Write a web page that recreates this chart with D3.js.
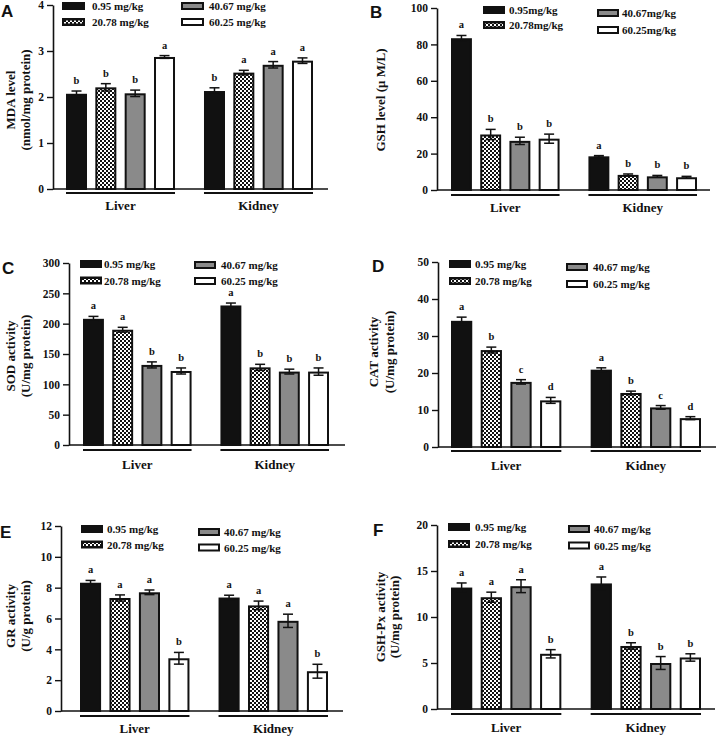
<!DOCTYPE html>
<html>
<head>
<meta charset="utf-8">
<script src="https://cdn.jsdelivr.net/npm/d3@7"></script>
<style>
  html, body { margin: 0; padding: 0; background: #fff; }
  svg { display: block; }
  text { font-family: "Liberation Serif", "Times New Roman", serif; font-weight: bold; fill: #111; }
  .plabel { font-family: "Liberation Sans", Arial, sans-serif; font-weight: bold; }
</style>
</head>
<body>
<svg id="chart" width="716" height="738"></svg>
<script>
// ---------------- DATA ----------------
const groups = ["Liver", "Kidney"];
const doseLabels = ["0.95 mg/kg", "20.78 mg/kg", "40.67 mg/kg", "60.25 mg/kg"];
const doseLabelsB = ["0.95mg/kg", "20.78mg/kg", "40.67mg/kg", "60.25mg/kg"];

const mdaMeans = [[2.07, 2.21, 2.08, 2.87], [2.13, 2.53, 2.70, 2.79]];
const mdaErrors = [[0.06, 0.08, 0.07, 0.03], [0.07, 0.05, 0.07, 0.06]];
const mdaLetters = [["b", "b", "b", "a"], ["b", "a", "a", "a"]];
const mdaTicks = [0, 1, 2, 3, 4];

const gshMeans = [[83.4, 30.5, 27.0, 28.2], [18.5, 8.3, 7.5, 7.0]];
const gshErrors = [[1.5, 2.8, 2.0, 2.5], [0.4, 0.5, 0.5, 0.5]];
const gshLetters = [["a", "b", "b", "b"], ["a", "b", "b", "b"]];
const gshTicks = [0, 20, 40, 60, 80, 100];

const sodMeans = [[208, 190, 132, 122], [230, 128, 121, 121]];
const sodErrors = [[4, 4, 5, 5], [4, 5, 4, 6]];
const sodLetters = [["a", "a", "b", "b"], ["a", "b", "b", "b"]];
const sodTicks = [0, 50, 100, 150, 200, 250, 300];

const catMeans = [[34.1, 26.2, 17.6, 12.6], [20.9, 14.6, 10.7, 7.8]];
const catErrors = [[1.0, 0.8, 0.6, 0.8], [0.5, 0.5, 0.5, 0.4]];
const catLetters = [["a", "b", "c", "d"], ["a", "b", "c", "d"]];
const catTicks = [0, 10, 20, 30, 40, 50];

const grMeans = [[8.32, 7.33, 7.70, 3.42], [7.36, 6.85, 5.85, 2.58]];
const grErrors = [[0.15, 0.2, 0.15, 0.38], [0.15, 0.28, 0.43, 0.45]];
const grLetters = [["a", "a", "a", "b"], ["a", "a", "a", "b"]];
const grTicks = [0, 2, 4, 6, 8, 10, 12];

const gpxMeans = [[13.2, 12.15, 13.35, 6.0], [13.65, 6.85, 5.0, 5.6]];
const gpxErrors = [[0.5, 0.55, 0.7, 0.45], [0.7, 0.35, 0.7, 0.4]];
const gpxLetters = [["a", "a", "a", "b"], ["a", "b", "b", "b"]];
const gpxTicks = [0, 5, 10, 15, 20];

// ---------------- STYLES ----------------
const INK = "#111";
const GRAY = "#8a8a8a";

const svg = d3.select("#chart");
const defs = svg.append("defs");
const pat = defs.append("pattern").attr("id", "checker")
  .attr("patternUnits", "userSpaceOnUse").attr("width", 4).attr("height", 4);
pat.append("rect").attr("width", 4).attr("height", 4).attr("fill", "#fff");
pat.append("rect").attr("width", 2).attr("height", 2).attr("fill", INK);
pat.append("rect").attr("x", 2).attr("y", 2).attr("width", 2).attr("height", 2).attr("fill", INK);

const fills = [INK, "url(#checker)", GRAY, "#fff"];

// ---------------- PANEL DRAWING ----------------
function drawPanel(cfg) {
  const g = svg.append("g");
  const yMax = cfg.ticks[cfg.ticks.length - 1];
  const y = d3.scaleLinear().domain([0, yMax]).range([cfg.y0, cfg.yTop]);
  const x0 = d3.scaleBand().domain(groups).range([cfg.barL, cfg.barR]).paddingInner(0.21).paddingOuter(0);
  const x1 = d3.scaleBand().domain(d3.range(4)).range([0, x0.bandwidth()]).paddingInner(0.284).paddingOuter(0);

  // y axis
  const ax = d3.axisLeft(y).tickValues(cfg.ticks).tickFormat(d3.format("d"))
    .tickSizeInner(6).tickSizeOuter(0).tickPadding(cfg.tickPad || 3);
  const axG = g.append("g").attr("transform", `translate(${cfg.axisX},0)`).call(ax);
  axG.select(".domain").attr("stroke", INK).attr("stroke-width", 1.6);
  axG.selectAll(".tick line").attr("stroke", INK).attr("stroke-width", 1.4);
  axG.selectAll(".tick text").attr("fill", INK)
    .style("font-family", '"Liberation Serif", "Times New Roman", serif')
    .style("font-weight", "bold").style("font-size", "11.5px");

  // x axis baseline
  g.append("line").attr("x1", cfg.axisX).attr("x2", cfg.right)
    .attr("y1", y(0)).attr("y2", y(0)).attr("stroke", INK).attr("stroke-width", 1.6);

  // bars
  groups.forEach((grp, gi) => {
    const gx = x0(grp);
    const bg = g.append("g");
    cfg.means[gi].forEach((v, di) => {
      const bx = gx + x1(di);
      const bw = x1.bandwidth();
      bg.append("rect")
        .attr("x", bx + 1).attr("width", bw - 2)
        .attr("y", y(v) + 1).attr("height", y(0) - y(v) - 1)
        .attr("fill", fills[di]).attr("stroke", INK).attr("stroke-width", 2);
    });
    cfg.means[gi].forEach((v, di) => {
      const cx = gx + x1(di) + x1.bandwidth() / 2;
      const e = cfg.errors[gi][di];
      const yt = y(v + e), yb = y(v - e);
      bg.append("line").attr("x1", cx).attr("x2", cx).attr("y1", yt).attr("y2", yb)
        .attr("stroke", INK).attr("stroke-width", 1.5);
      [yt, yb].forEach(yy => bg.append("line").attr("x1", cx - 5).attr("x2", cx + 5)
        .attr("y1", yy).attr("y2", yy).attr("stroke", INK).attr("stroke-width", 1.5));
      bg.append("text").attr("x", cx).attr("y", yt - 7)
        .attr("text-anchor", "middle").style("font-size", "10.5px")
        .text(cfg.letters[gi][di]);
    });
    // group underline
    g.append("line").attr("x1", gx).attr("x2", gx + x0.bandwidth())
      .attr("y1", y(0) + cfg.ulOff).attr("y2", y(0) + cfg.ulOff)
      .attr("stroke", INK).attr("stroke-width", 2);
    g.append("text").attr("x", gx + x0.bandwidth() / 2).attr("y", y(0) + cfg.glOff)
      .attr("text-anchor", "middle").style("font-size", "13px").text(grp);
  });

  // y axis title
  const tg = g.append("g").attr("transform", `translate(0,${cfg.titleY}) rotate(-90)`);
  cfg.title.forEach((line, i) => {
    tg.append("text").attr("x", 0).attr("y", cfg.titleX[i])
      .attr("text-anchor", "middle").style("font-size", "13px").text(line);
  });

  // panel letter
  g.append("text").attr("class", "plabel").attr("x", cfg.letterPos[0]).attr("y", cfg.letterPos[1])
    .style("font-size", "17px").text(cfg.panel);

  // legend
  cfg.legend.forEach((L, i) => {
    const lg = g.append("g");
    const h = 8, w = L.w;
    const top = L.cy - h / 2;
    if (i === 1) {
      lg.append("rect").attr("x", L.x).attr("y", top).attr("width", w).attr("height", h).attr("fill", INK);
      lg.append("rect").attr("x", L.x + 2).attr("y", L.cy - 1.5).attr("width", w - 4).attr("height", 3).attr("fill", "url(#checker)");
    } else if (i === 0) {
      lg.append("rect").attr("x", L.x).attr("y", top).attr("width", w).attr("height", h).attr("fill", INK);
    } else {
      lg.append("rect").attr("x", L.x + 1).attr("y", top + 1).attr("width", w - 2).attr("height", h - 2)
        .attr("fill", fills[i]).attr("stroke", INK).attr("stroke-width", 2);
    }
    lg.append("text").attr("x", L.tx).attr("y", L.cy + 4).style("font-size", "11px").text(cfg.doses[i]);
  });
}

function legendSpec(c1x, c1tx, c1y, c2x, c2tx, c2y, w) {
  return [
    { x: c1x, tx: c1tx, cy: c1y[0], w: w },
    { x: c1x, tx: c1tx, cy: c1y[1], w: w },
    { x: c2x, tx: c2tx, cy: c2y[0], w: w },
    { x: c2x, tx: c2tx, cy: c2y[1], w: w }
  ];
}

drawPanel({
  panel: "A", letterPos: [1, 17],
  axisX: 53, barL: 66, barR: 313, right: 328, yTop: 5, y0: 189, ulOff: 4, glOff: 21,
  ticks: mdaTicks, means: mdaMeans, errors: mdaErrors, letters: mdaLetters,
  title: ["MDA level", "(nmol/mg protein)"], titleX: [15, 30], titleY: 100,
  doses: doseLabels,
  legend: legendSpec(62, 92, [6, 22], 181, 209, [6, 22], 23)
});

drawPanel({
  panel: "B", letterPos: [370, 18],
  axisX: 437, barL: 451, barR: 697, right: 710, yTop: 8, y0: 190, ulOff: 5, glOff: 22,
  ticks: gshTicks, means: gshMeans, errors: gshErrors, letters: gshLetters,
  title: ["GSH level (\u03bc M/L)"], titleX: [385], titleY: 100,
  doses: doseLabelsB,
  legend: legendSpec(483, 509, [10, 25], 597, 622, [13, 30], 22)
});

drawPanel({
  panel: "C", letterPos: [2, 274],
  axisX: 69, barL: 83, barR: 329, right: 345, yTop: 263, y0: 445, ulOff: 5, glOff: 24,
  ticks: sodTicks, means: sodMeans, errors: sodErrors, letters: sodLetters,
  title: ["SOD activity", "(U/mg protein)"], titleX: [15, 30], titleY: 356,
  doses: doseLabels,
  legend: legendSpec(80, 104, [264, 280.5], 194, 221, [265, 281], 22)
});

drawPanel({
  panel: "D", letterPos: [372, 272],
  axisX: 438, barL: 451, barR: 701, right: 716, yTop: 262, y0: 447, ulOff: 4, glOff: 23,
  ticks: catTicks, means: catMeans, errors: catErrors, letters: catLetters,
  title: ["CAT activity", "(U/mg protein)"], titleX: [378, 394], titleY: 352,
  doses: doseLabels,
  legend: legendSpec(449, 475, [264, 281], 566, 593, [267, 284], 22)
});

drawPanel({
  panel: "E", letterPos: [0, 538],
  axisX: 61, barL: 80, barR: 328, right: 343, yTop: 526, y0: 711, ulOff: 5, glOff: 22,
  ticks: grTicks, means: grMeans, errors: grErrors, letters: grLetters,
  title: ["GR activity", "(U/g protein)"], titleX: [15, 30], titleY: 616,
  doses: doseLabels,
  legend: legendSpec(81, 107, [529, 544.5], 198, 224, [532, 547.5], 22)
});

drawPanel({
  panel: "F", letterPos: [373, 536],
  axisX: 437, barL: 451, barR: 701, right: 715, yTop: 525, y0: 709, ulOff: 5, glOff: 23,
  ticks: gpxTicks, means: gpxMeans, errors: gpxErrors, letters: gpxLetters,
  title: ["GSH-Px activity", "(U/mg protein)"], titleX: [385, 399], titleY: 617,
  doses: doseLabels,
  legend: legendSpec(448, 475, [527, 544], 568, 594, [529, 545.5], 22)
});
</script>
</body>
</html>
